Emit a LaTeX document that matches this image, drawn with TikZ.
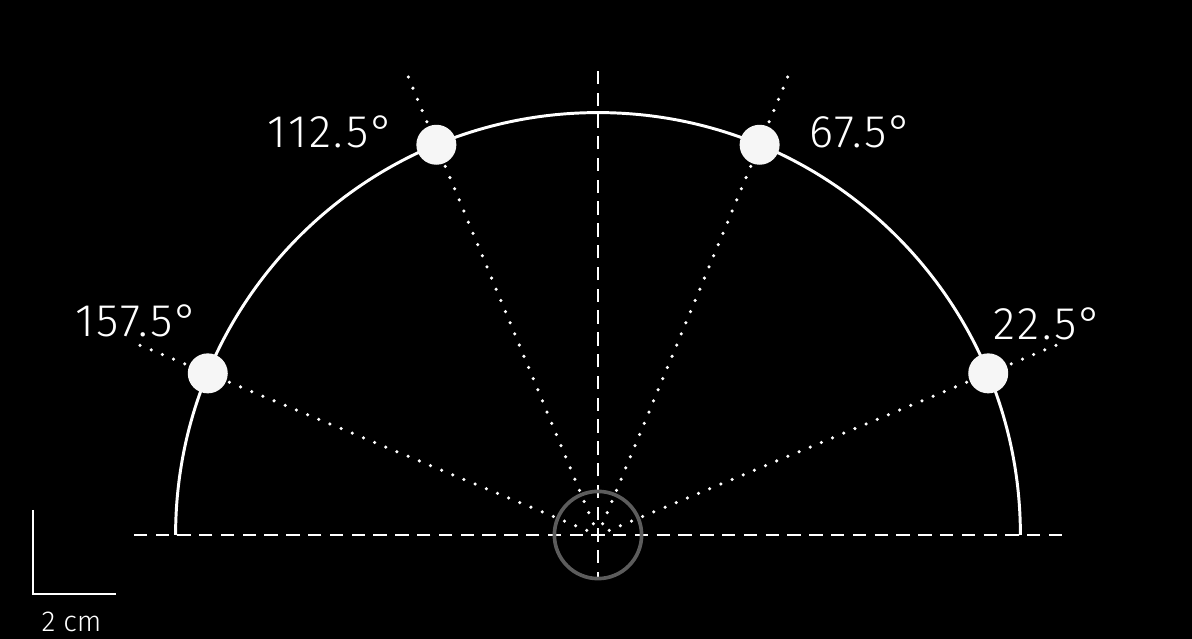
\documentclass[tikz,border=0pt]{standalone}
\usepackage{fontspec}
\setmainfont{Fira Sans}[UprightFont=* Light]
\newfontfamily\labelfont{Fira Sans}[UprightFont=* Light,LetterSpace=5]
\usetikzlibrary{positioning,calc}

\begin{document}
\begin{tikzpicture}[
    arcline/.style={draw=white,line width=2.1pt},
    axisline/.style={draw=white,line width=1.9pt,dash pattern=on 9.5pt off 6pt,dash phase=4.75pt},
    rayline/.style={draw=white,line width=2.5pt,line cap=round,dash pattern=on 0pt off 8.6pt},
    ring/.style={draw={rgb,255:red,92;green,92;blue,92},line width=2.6pt},
    markdot/.style={circle,fill={rgb,255:red,246;green,246;blue,246},minimum size=1cm,inner sep=0pt},
    anglelabel/.style={text=white,font=\labelfont\fontsize{32.5}{38}\selectfont,inner sep=0pt},
    scalelabel/.style={text=white,font=\fontsize{20.5}{24}\selectfont,inner sep=0pt}
    ]

    \fill[black] (-14.95,-2.6) rectangle (14.85,13.375);
    \useasboundingbox (-14.95,-2.6) rectangle (14.85,13.375);

    \coordinate (o) at (0,0);
    \coordinate (axleft) at (-11.6,0);
    \coordinate (axright) at (11.6,0);
    \coordinate (axtop) at (0,11.6);
    \coordinate (axbottom) at (0,-1.08);

    \foreach \a/\n in {22.5/r1,67.5/r2,112.5/r3,157.5/r4}{
      \coordinate (\n) at (\a:12.6);
      \draw[rayline] (o) -- (\n);
    }

    \draw[axisline] (o) -- (axleft);
    \draw[axisline] (o) -- (axright);
    \draw[axisline] (o) -- (axtop);
    \draw[axisline] (o) -- (axbottom);

    \draw[arcline] (10.56,0) arc[start angle=0,end angle=180,radius=10.56];

    \draw[ring] (o) circle (1.09);

    \foreach \a/\n in {22.5/d1,67.5/d2,112.5/d3,157.5/d4}
      \node[markdot] (\n) at (\a:10.56) {};

    \node[anglelabel] (l1) at (11.25,5.28) {22.5°};
    \node[anglelabel] (l2) at (6.575,10.075) {67.5°};
    \node[anglelabel] (l3) at (-6.675,10.075) {112.5°};
    \node[anglelabel] (l4) at (-11.525,5.35) {157.5°};

    \coordinate (sbtop) at (-14.125,0.625);
    \coordinate (sbcorner) at (-14.125,-1.475);
    \coordinate (sbend) at (-12.05,-1.475);
    \draw[white,line width=1.4pt] (sbtop) -- (sbcorner) -- (sbend);
    \node[scalelabel] (sblabel) at (-13.16,-2.175) {2 cm};

  \end{tikzpicture}
\end{document}
